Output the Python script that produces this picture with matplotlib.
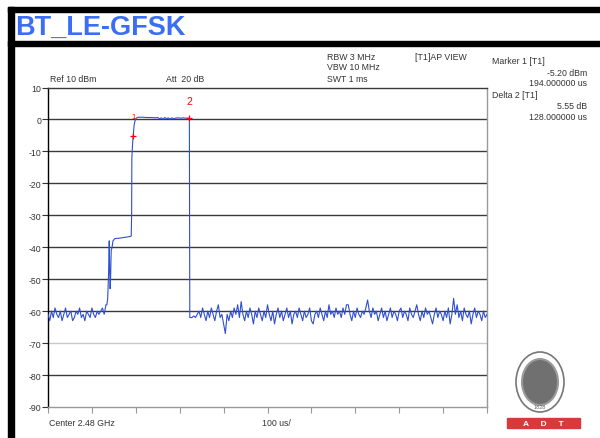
import numpy as np
import matplotlib
matplotlib.use("Agg")
from matplotlib import pyplot as plt
from matplotlib.patches import Ellipse, Rectangle

plt.rcParams['font.family'] = ['Liberation Sans', 'DejaVu Sans']

# trace (time in us, level in dBm)
noise_pre = [-61, -63, -60, -62, -59, -61, -62, -60, -63, -61, -59, -62, -61, -60, -63, -62, -60,
             -61, -59, -62, -61, -63, -60, -61, -62, -59, -61, -62, -60, -61, -60, -59, -61, -58]

burst_t = [134, 136, 138, 139.5, 140.5, 141.5, 142.5, 144, 146, 148, 152, 160, 170, 180, 188, 189.5,
           190.5, 191, 192.5, 194, 196, 198, 201, 205, 215, 225, 235, 245, 250, 254, 258, 262, 266,
           270, 274, 278, 282, 286, 290, 296, 302, 308, 314, 320, 322, 322.6, 323]
burst_v = [-58, -56, -48, -38, -47, -53, -50, -41, -40, -38, -37.3, -37.2, -37, -36.8, -36.6, -36.5,
           -30, -12, -8, -5.2, -2, -0.5, 0.4, 0.7, 0.7, 0.6, 0.6, 0.5, 0.6, 0.2, 0.5, 0.1, 0.6,
           0.2, 0.5, 0.1, 0.5, 0.2, 0.4, 0.5, 0.4, 0.5, 0.4, 0.35, 0.35, -30, -62]

noise_post = [
    -62, -62, -61.5, -62, -61, -60, -62, -59, -61, -63,
    -60, -62, -59, -61, -63, -60, -58, -62, -61, -64,
    -67, -61, -63, -60, -62, -59, -61, -58, -62, -57,
    -61, -63, -60, -62, -59, -61, -64, -60, -62, -59,
    -61, -63, -60, -62, -58, -61, -63, -60, -64, -61,
    -59, -62, -60, -63, -61, -59, -62, -60, -64, -61,
    -60, -62, -59, -61, -63, -60, -62, -61, -59, -63,
    -64, -61, -60, -62, -59, -61, -63, -60, -62, -58,
    -61, -60, -62, -59, -61, -60, -62, -59, -61, -58,
    -58, -61, -63, -60, -62, -59, -61, -62, -60, -61,
    -59, -56.5, -60, -62, -59, -61, -60, -63, -61, -59,
    -62, -60, -63, -61, -59, -62, -60, -61, -63, -60,
    -59, -62, -60, -61, -63, -59, -61, -62, -60, -58,
    -61, -63, -60, -62, -59, -61, -60, -62, -64, -61,
    -59, -62, -60, -61, -63, -60, -62, -59, -64, -61,
    -56, -61, -58, -62, -60, -63, -59, -61, -62, -60,
    -64, -61, -59, -62, -60, -61, -63, -60, -62, -61]

marker1 = (194, -5.2)
marker2 = (322, 0.35)
y_ticks = [10, 0, -10, -20, -30, -40, -50, -60, -70, -80, -90]

t = np.concatenate([np.arange(len(noise_pre)) * 4.0, burst_t,
                    324 + np.arange(len(noise_post)) * 4.0])
v = np.concatenate([noise_pre, burst_v, noise_post])

W, H = 600, 439
fig = plt.figure(figsize=(6, 4.39), dpi=100)

# background layer in pixel units
bg = fig.add_axes([0, 0, 1, 1])
bg.set_xlim(0, W)
bg.set_ylim(H, 0)
bg.axis('off')
bg.add_patch(Rectangle((8, 8), W - 8, 4.7, color='black'))
bg.add_patch(Rectangle((8, 42), W - 8, 4.7, color='black'))
bg.add_patch(Rectangle((8, 8), 6, H - 8, color='black'))
bg.text(15, 28, 'BT_LE-GFSK', color='#3b6ef5', fontsize=19.5, fontweight='bold', va='center')

small = dict(fontsize=6.3, color='#333333', va='center')
bg.text(50, 80, 'Ref 10 dBm', **small)
bg.text(166, 80, 'Att  20 dB', **small)
bg.text(327, 57, 'RBW 3 MHz', **small)
bg.text(327, 68, 'VBW 10 MHz', **small)
bg.text(327, 79, 'SWT 1 ms', **small)
bg.text(415, 57, '[T1]AP VIEW', **small)
bg.text(492, 62, 'Marker 1 [T1]', **small)
bg.text(587, 73, '-5.20 dBm', ha='right', **small)
bg.text(587, 84, '194.000000 us', ha='right', **small)
bg.text(492, 96, 'Delta 2 [T1]', **small)
bg.text(587, 107, '5.55 dB', ha='right', **small)
bg.text(587, 118, '128.000000 us', ha='right', **small)
bg.text(49, 424, 'Center 2.48 GHz', **small)
bg.text(262, 424, '100 us/', **small)

# logo
bg.add_patch(Ellipse((540, 383), 48, 60, fc='white', ec='#777777', lw=1.2))
bg.add_patch(Ellipse((540, 383), 36, 46, fc='#707070', ec='#9a9a9a', lw=1.5))
bg.text(540, 408, '1828', fontsize=4, color='#666666', ha='center', va='center')
bg.add_patch(Rectangle((507, 419), 73, 10, color='#d63a3a'))
bg.text(543.5, 424.5, 'A     D     T', fontsize=6, color='white', fontweight='bold',
        ha='center', va='center')

# analyzer screen
left, right, top, bottom = 48, 487, 88.5, 408
ax = fig.add_axes([left / W, (H - bottom) / H, (right - left) / W, (bottom - top) / H])
ax.set_facecolor('white')
ax.set_xlim(0, 1000)
ax.set_ylim(-90, 10)

for y in y_ticks[1:-1]:
    ax.axhline(y, color='#c8c8c8' if y == -70 else '#3a3a3a', lw=1.0, zorder=1)

ax.plot(t, v, color='#2f4fd0', lw=0.8, zorder=3)

ax.plot(*marker1, marker='+', color='red', ms=5, mew=0.9, zorder=4)
ax.plot(*marker2, marker='+', color='red', ms=5, mew=0.9, zorder=4)
ax.text(marker1[0], 0.9, '1', color='red', fontsize=5.5, ha='center', va='center', zorder=4)
ax.text(marker2[0], 5.7, '2', color='red', fontsize=7.5, ha='center', va='center', zorder=4)

ax.spines['left'].set_color('black')
ax.spines['top'].set_color('#3a3a3a')
ax.spines['right'].set_color('#999999')
ax.spines['bottom'].set_color('#999999')
for s in ax.spines.values():
    s.set_linewidth(1.0)

ax.set_yticks(y_ticks)
ax.set_yticklabels([str(y) for y in y_ticks])
ax.tick_params(axis='y', direction='out', length=4, width=0.8, color='#333333',
               labelsize=6.3, labelcolor='#333333', pad=1)
ax.set_xticks(np.arange(0, 1001, 100))
ax.set_xticklabels([])
ax.tick_params(axis='x', direction='out', length=4, width=0.8, color='#999999')

fig.savefig('out.png', dpi=100)
